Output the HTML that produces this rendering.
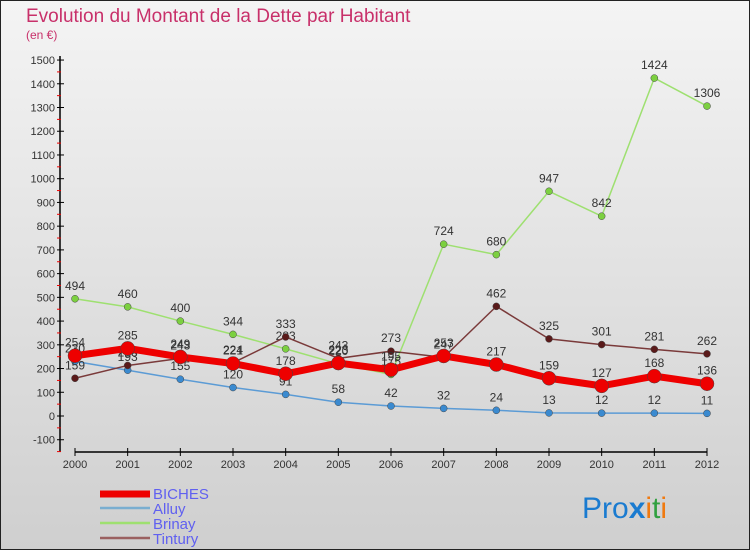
<!DOCTYPE html>
<html><head><meta charset="utf-8"><style>
body{margin:0}
svg{display:block;font-family:"Liberation Sans",sans-serif}
</style></head><body>
<svg id="c" width="750" height="550" xmlns="http://www.w3.org/2000/svg">
<defs><linearGradient id="bg" x1="0" y1="0" x2="0" y2="1"><stop offset="0" stop-color="#f4f4f4"/><stop offset="1" stop-color="#cfcfcf"/></linearGradient></defs>
<rect x="0.5" y="0.5" width="749" height="549" fill="url(#bg)" stroke="#222"/>
<text x="26" y="22" font-size="19" fill="#c8306a">Evolution du Montant de la Dette par Habitant</text>
<text x="26" y="39" font-size="12" fill="#c8306a">(en €)</text>
<g id="axes"></g><g id="series"></g><g id="legend"></g>
<text x="582" y="518" font-size="30"><tspan fill="#1a7bd0">Pro</tspan><tspan fill="#1a7bd0" font-weight="bold">x</tspan><tspan fill="#f07a10">i</tspan><tspan fill="#30a040">t</tspan><tspan fill="#f07a10">i</tspan></text>
</svg>
<script>
const years=["2000","2001","2002","2003","2004","2005","2006","2007","2008","2009","2010","2011","2012"];
const yTicks=[-100,0,100,200,300,400,500,600,700,800,900,1000,1100,1200,1300,1400,1500];
const biches=[254,285,249,221,178,223,195,253,217,159,127,168,136];
const alluy=[230,193,155,120,91,58,42,32,24,13,12,12,11];
const brinay=[494,460,400,344,283,220,175,724,680,947,842,1424,1306];
const tintury=[159,213,243,224,333,243,273,247,462,325,301,281,262];
const NS="http://www.w3.org/2000/svg";
const X=i=>75+i*(632/12);
const Y=v=>416-v*0.2373;
function mk(t,a,p){const e=document.createElementNS(NS,t);for(const k in a)e.setAttribute(k,a[k]);p.appendChild(e);return e;}
const ax=document.getElementById('axes');
const yl=mk('line',{x1:60,y1:56,x2:60,y2:452,stroke:'#000','stroke-width':1.5},ax);


yTicks.forEach((v,k)=>{
 mk('line',{x1:57,y1:Y(v),x2:64,y2:Y(v),stroke:'#000'},ax);
 if(k<yTicks.length-1)mk('line',{x1:57,y1:Y(v+50),x2:61,y2:Y(v+50),stroke:'#e00'},ax);
 const t=mk('text',{x:55,y:Y(v)+4,'font-size':11,'text-anchor':'end',fill:'#333'},ax);t.textContent=v;
 
 
});
mk('line',{x1:57,y1:Y(-150),x2:61,y2:Y(-150),stroke:'#e00'},ax);
const xl=mk('line',{x1:75,y1:452,x2:707,y2:452,stroke:'#000','stroke-width':1.5},ax);


years.forEach((y,i)=>{
 mk('line',{x1:X(i),y1:448,x2:X(i),y2:456,stroke:'#000'},ax);
 const t=mk('text',{x:X(i),y:468,'font-size':11,'text-anchor':'middle',fill:'#333'},ax);t.textContent=y;
 
 
});
const sg=document.getElementById('series');
function series(data,name,color,w,dot,r){
 const g=mk('g',{},sg);
 
 
 const p=mk('polyline',{points:data.map((v,i)=>X(i)+','+Y(v)).join(' '),fill:'none',stroke:color,'stroke-width':w,'stroke-linejoin':'round'},g);
 
 
 data.forEach((v,i)=>{
  const c=mk('circle',{cx:X(i),cy:Y(v),r:r,fill:dot,stroke:'#444','stroke-width':0.5},g);
  
  
  const t=mk('text',{x:X(i),y:Y(v)-9,'font-size':12,'text-anchor':'middle',fill:'#333'},g);t.textContent=v;
  
  
 });
}
series(alluy,'alluy','#5b9bd5',1.5,'#3a8ad0',3.5);
series(brinay,'brinay','#9ee070',1.5,'#7cd040',3.5);
series(tintury,'tintury','#7a3a3a',1.5,'#5a1a1a',3.5);
series(biches,'biches','#ee0000',7,'#ee0000',7);
const lg=document.getElementById('legend');
[["BICHES","#ee0000",7],["Alluy","#7aaed0",2.5],["Brinay","#9ee070",2.5],["Tintury","#9a6060",2.5]].forEach((d,i)=>{
 const y=492+i*15;
 const g=mk('g',{},lg);
 
 
 mk('line',{x1:100,y1:y+(i?1:2),x2:150,y2:y+(i?1:2),stroke:d[1],'stroke-width':d[2]},g);
 const t=mk('text',{x:153,y:y+7,'font-size':15,fill:'#6060f0'},g);t.textContent=d[0];
});
</script>
</body></html>
